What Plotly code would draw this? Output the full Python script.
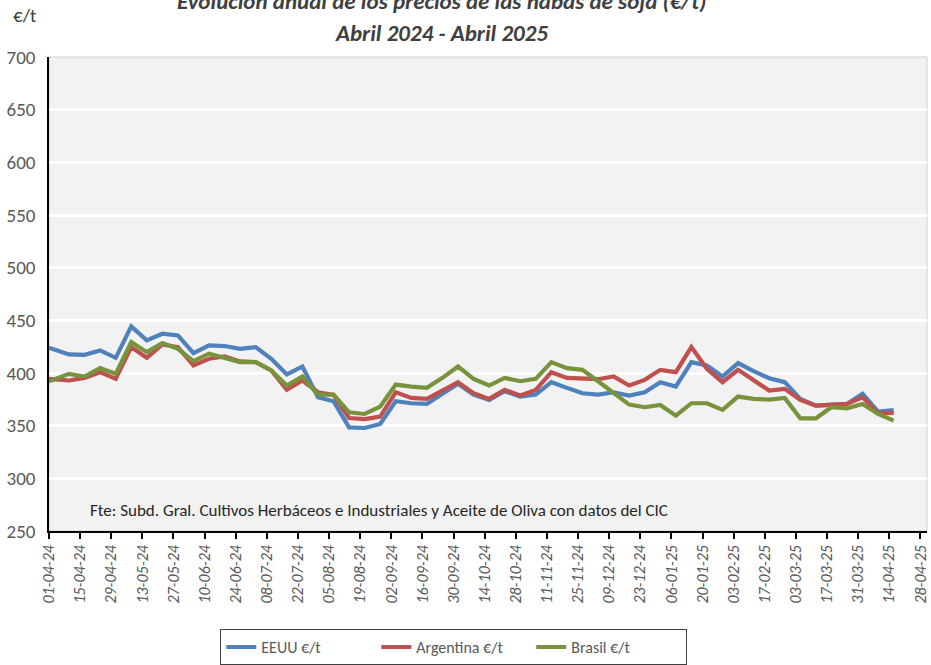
import pandas as pd
import plotly.graph_objects as go

# weekly quotes (first one on 01-04-24, then Wednesdays)
fechas = [pd.Timestamp("2024-04-01")] + list(pd.date_range("2024-04-10", "2025-04-16", freq="7D"))

eeuu = [424.0, 417.6, 417.3, 421.4, 414.4, 444.3, 431.0, 437.3, 435.7, 418.9,
        426.2, 425.6, 423.0, 424.6, 413.5, 398.6, 406.2, 377.0, 373.2, 348.4,
        347.8, 351.6, 373.2, 371.3, 370.6, 380.2, 389.7, 379.5, 374.4, 382.7,
        377.6, 379.5, 391.3, 385.9, 380.8, 379.5, 381.7, 378.6, 381.7, 391.3,
        387.1, 410.3, 407.1, 396.7, 409.4, 401.7, 395.1, 391.3, 375.4, 369.0,
        370.0, 370.6, 380.2, 363.3, 364.9]

argentina = [394.4, 392.9, 395.4, 400.8, 394.4, 424.6, 414.4, 427.1, 424.6, 407.1,
             413.5, 415.7, 411.0, 410.3, 402.4, 384.0, 392.9, 381.7, 379.2, 357.3,
             356.3, 358.6, 381.7, 376.3, 375.4, 383.3, 391.3, 380.8, 375.4, 384.0,
             378.6, 384.0, 400.8, 395.4, 394.4, 394.1, 396.7, 388.1, 393.5, 403.0,
             400.8, 424.6, 404.0, 391.3, 403.0, 392.9, 383.3, 384.9, 374.4, 369.0,
             370.0, 370.6, 377.0, 361.7, 362.1]

brasil = [392.2, 399.2, 396.7, 404.6, 399.2, 429.4, 419.8, 428.4, 423.0, 411.3,
          418.3, 414.4, 410.3, 410.3, 402.4, 388.1, 396.7, 379.5, 379.5, 362.7,
          361.1, 368.1, 389.0, 387.1, 385.9, 395.4, 406.2, 394.4, 388.1, 395.4,
          392.2, 394.4, 410.3, 404.6, 403.0, 392.2, 381.1, 370.0, 367.5, 369.7,
          359.5, 371.3, 371.3, 365.0, 377.6, 375.4, 374.8, 376.3, 357.0, 357.0,
          367.5, 366.5, 370.6, 361.1, 354.8]

series = [("EEUU €/t", eeuu, "#4f81bd"),
          ("Argentina €/t", argentina, "#c0504d"),
          ("Brasil €/t", brasil, "#77933c")]

FONT = "Calibri, Carlito, Lato, sans-serif"

fig = go.Figure()
for nombre, valores, color in series:
    fig.add_trace(go.Scatter(x=fechas, y=valores, name=nombre, mode="lines",
                             line=dict(color=color, width=4.2)))

fig.update_layout(
    width=931, height=665,
    margin=dict(l=49, r=4, t=57, b=134, autoexpand=False),
    paper_bgcolor="white",
    plot_bgcolor="#f2f2f2",
    font=dict(family=FONT, color="#595959", size=16),
    showlegend=True,
    legend=dict(orientation="h", x=0.461, xanchor="center", y=-0.207, yanchor="top",
                bgcolor="white", bordercolor="#404040", borderwidth=1,
                font=dict(size=16, color="#595959"), entrywidth=110,
                tracegroupgap=0),
)

fig.update_xaxes(
    type="date", automargin=False,
    range=["2024-04-01", "2025-05-01"],
    tick0="2024-04-01", dtick=14 * 86400000,
    tickformat="%d-%m-%y", tickangle=-90,
    tickfont=dict(family=FONT, size=16, color="#595959", style="italic"),
    showgrid=False, showline=True, linecolor="black", linewidth=1.5,
    ticks="outside", ticklen=6, tickcolor="black", tickwidth=1.5,
)
fig.update_yaxes(
    range=[250, 700], dtick=50, automargin=False,
    showgrid=True, gridcolor="white", gridwidth=2.5,
    showline=True, linecolor="black", linewidth=1.5,
    ticks="", ticklabelstandoff=8,
    tickfont=dict(family=FONT, size=19, color="#595959"),
    zeroline=False,
)

# light frame of plot area
fig.add_shape(type="rect", xref="paper", yref="paper", x0=0, x1=1, y0=0, y1=1,
              line=dict(color="#d0d0d0", width=1), layer="below")

fig.add_annotation(text="Evolución anual de los precios de las habas de soja (€/t)",
                   xref="paper", yref="paper", x=0.447, y=1.118, showarrow=False,
                   xanchor="center", yanchor="middle",
                   font=dict(family=FONT, size=23, color="#404040", weight="bold", style="italic"))
fig.add_annotation(text="Abril 2024 - Abril 2025",
                   xref="paper", yref="paper", x=0.447, y=1.051, showarrow=False,
                   xanchor="center", yanchor="middle",
                   font=dict(family=FONT, size=23, color="#404040", weight="bold", style="italic"))
fig.add_annotation(text="€/t", xref="paper", yref="paper", x=-0.027, y=1.088,
                   showarrow=False, xanchor="center", yanchor="middle",
                   font=dict(family=FONT, size=19, color="#404040"))
fig.add_annotation(text="Fte: Subd. Gral. Cultivos Herbáceos e Industriales y Aceite de Oliva con datos del CIC",
                   xref="paper", yref="paper", x=0.044, y=0.044, showarrow=False,
                   xanchor="left", yanchor="middle",
                   font=dict(family=FONT, size=17, color="#262626"))

# page has a default 8px body margin; drop it so the chart fills the window
fig.write_html("out.html", config={"displayModeBar": False},
               post_script="document.body.style.margin='0';")
